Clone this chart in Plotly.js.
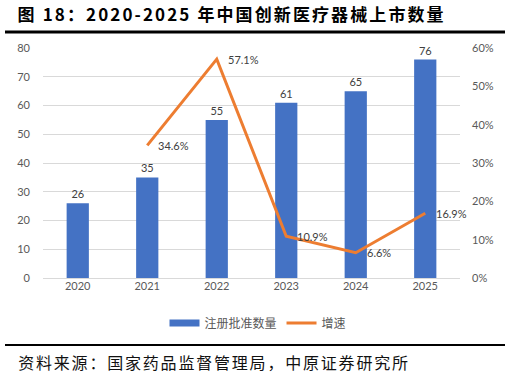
<!DOCTYPE html>
<html><head><meta charset="utf-8">
<script src="https://cdn.plot.ly/plotly-3.0.1.min.js"></script>
<style>html,body{margin:0;padding:0;background:#fff}#chart{width:510px;height:378px}
g.annotation[data-index="0"] text{letter-spacing:2.1px}
g.annotation[data-index="1"] text{letter-spacing:1.8px}
</style>
</head><body><div id="chart"></div>
<script>
const years = ['2020','2021','2022','2023','2024','2025'];
const approvals = [26, 35, 55, 61, 65, 76];
const growthYears = ['2021','2022','2023','2024','2025'];
const growth = [0.346, 0.571, 0.109, 0.066, 0.169];
const barName = '注册批准数量';
const lineName = '增速';
const titleText = '图 18：2020-2025 年中国创新医疗器械上市数量';
const sourceText = '资料来源：国家药品监督管理局，中原证券研究所';

const W = 510, H = 378, L = 43, R = 50, T = 48, B = 100;
const pw = W - L - R, ph = H - T - B;
const px = x => (x - L) / pw;
const py = y => (H - B - y) / ph;
const numFont = 'Lato, "Noto Sans CJK SC", sans-serif';

const traces = [
  {type:'bar', x: years, y: approvals, name: barName, marker:{color:'#4472C4'},
   text: approvals.map(String), textposition:'outside', cliponaxis:false,
   textfont:{size:11, color:'#404040', family:numFont}, hoverinfo:'skip', showlegend:false},
  {type:'scatter', mode:'lines', x: years, y: years.map(() => null), name: barName,
   line:{color:'#4472C4', width:7}, hoverinfo:'skip'},
  {type:'scatter', mode:'lines', x: growthYears, y: growth, yaxis:'y2', name: lineName,
   line:{color:'#ED7D31', width:3}, cliponaxis:false, hoverinfo:'skip'}
];

const growthLabels = growthYears.map((yr, i) => ({
  xref:'x', yref:'y2', x: years.indexOf(yr), y: growth[i], xanchor:'left', yanchor:'middle', xshift:9,
  showarrow:false, text:(growth[i]*100).toFixed(1) + '%',
  font:{size:11, color:'#404040', family:numFont}
}));

const layout = {
  width: W, height: H,
  margin:{l:L, r:R, t:T, b:B, pad:0},
  paper_bgcolor:'#fff', plot_bgcolor:'#fff',
  showlegend:true,
  legend:{orientation:'h', x:px(258), xanchor:'center', y:py(323), yanchor:'middle',
    font:{size:12, color:'#595959', family:'"Noto Sans CJK SC", sans-serif'}, traceorder:'normal',
    itemwidth:30},
  bargap:0.68,
  xaxis:{type:'category', categoryarray: years, categoryorder:'array', range:[-0.5, years.length-0.5],
    showgrid:false, showline:false, zeroline:false, ticks:'',
    tickfont:{size:11, color:'#595959', family:numFont}},
  yaxis:{range:[0,80], dtick:10, showgrid:true, gridcolor:'#D9D9D9', gridwidth:1, zeroline:true,
    zerolinecolor:'#D9D9D9', showline:false, ticks:'', ticklabelstandoff:12,
    tickfont:{size:11, color:'#595959', family:numFont}},
  yaxis2:{range:[0,0.6], dtick:0.1, tickformat:'.0%', overlaying:'y', side:'right', showgrid:false,
    zeroline:false, showline:false, ticks:'', ticklabelstandoff:11,
    tickfont:{size:11, color:'#595959', family:numFont}},
  shapes:[
    {type:'line', xref:'paper', yref:'paper', x0:px(5), x1:px(505), y0:py(32), y1:py(32),
     line:{color:'#000', width:3}},
    {type:'line', xref:'paper', yref:'paper', x0:px(5), x1:px(505), y0:py(345), y1:py(345),
     line:{color:'#000', width:2}}
  ],
  annotations:[
    {xref:'paper', yref:'paper', x:px(231), y:py(14), xanchor:'center', yanchor:'middle', showarrow:false,
     text:'<b>'+titleText+'</b>', font:{size:17, color:'#000', family:'"Noto Sans CJK SC", sans-serif'}},
    {xref:'paper', yref:'paper', x:px(214), y:py(362), xanchor:'center', yanchor:'middle', showarrow:false,
     text:sourceText, font:{size:16, color:'#111', family:'"Noto Sans CJK SC", sans-serif'}}
  ].concat(growthLabels)
};
Plotly.newPlot('chart', traces, layout, {displayModeBar:false, staticPlot:true});
</script></body></html>
